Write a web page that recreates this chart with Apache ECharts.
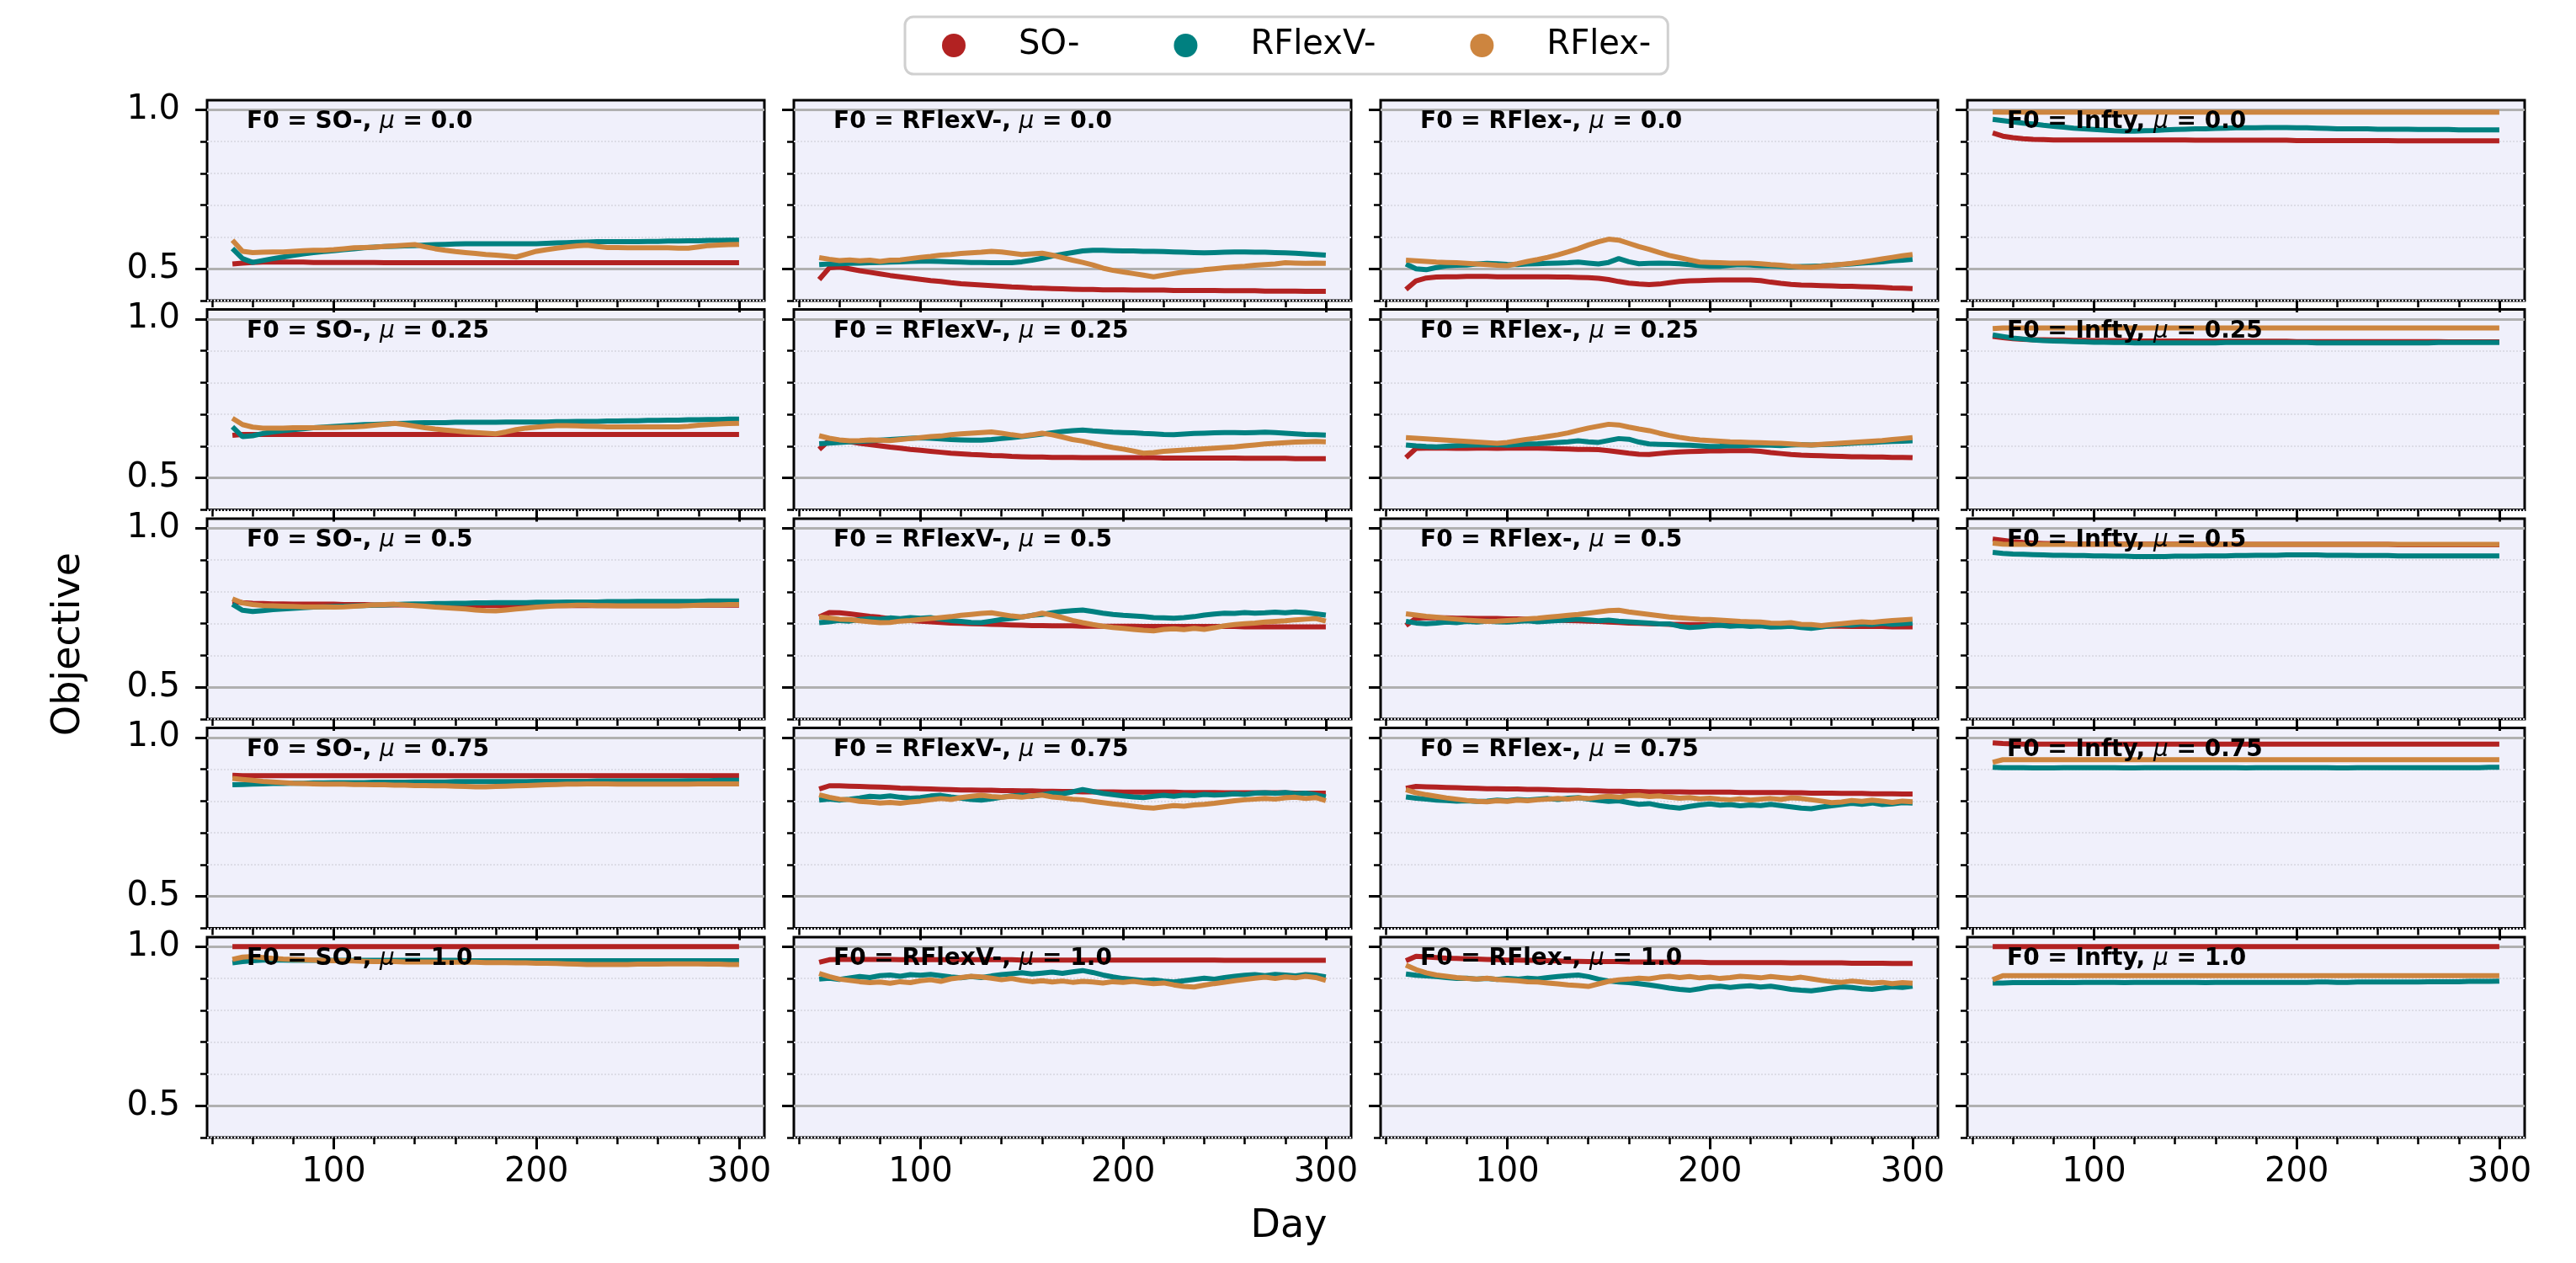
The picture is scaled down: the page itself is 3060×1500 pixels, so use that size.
<!DOCTYPE html>
<html>
<head>
<meta charset="utf-8">
<script src="https://cdn.jsdelivr.net/npm/echarts/dist/echarts.min.js"></script>
<style>
  html, body { margin: 0; padding: 0; background: #fff; }
  #grid { width: 3060px; height: 1500px; }
</style>
</head>
<body>
<div id="grid"></div>
<script>
// day axis shared by every panel
const days = [50,55,60,65,70,75,80,85,90,95,100,105,110,115,120,125,130,135,140,145,150,155,160,165,170,175,180,185,190,195,200,205,210,215,220,225,230,235,240,245,250,255,260,265,270,275,280,285,290,295,300];

const seriesNames = ['SO-', 'RFlexV-', 'RFlex-'];
const seriesColors = ['#b22222', '#008080', '#cd853f'];
const f0Labels = ['SO-', 'RFlexV-', 'RFlex-', 'Infty'];
const muLabels = ['0.0', '0.25', '0.5', '0.75', '1.0'];
const xMajorTicks = [100, 200, 300];
const xMinorTicks = [40, 60, 80, 120, 140, 160, 180, 220, 240, 260, 280];
const yMajorTicks = [0.5, 1.0];
const yMinorTicks = [0.4, 0.6, 0.7, 0.8, 0.9];

// ---- mu = 0.0 ----
const so_SO_0 = [0.515,0.518,0.520,0.521,0.521,0.521,0.521,0.521,0.520,0.520, 0.520,0.520,0.520,0.520,0.520,0.519,0.519,0.519,0.519,0.519, 0.519,0.519,0.519,0.519,0.519,0.519,0.519,0.519,0.519,0.519, 0.519,0.519,0.519,0.519,0.519,0.519,0.519,0.519,0.519,0.519, 0.519,0.519,0.519,0.519,0.519,0.519,0.519,0.519,0.519,0.519, 0.519];
const rfv_SO_0 = [0.564,0.532,0.520,0.526,0.532,0.537,0.542,0.547,0.551,0.554, 0.557,0.560,0.563,0.566,0.568,0.570,0.571,0.572,0.573,0.575, 0.576,0.577,0.578,0.579,0.579,0.579,0.579,0.579,0.579,0.579, 0.579,0.580,0.581,0.582,0.583,0.584,0.585,0.585,0.585,0.585, 0.585,0.586,0.586,0.587,0.587,0.588,0.588,0.589,0.589,0.590, 0.590];
const rf_SO_0 = [0.590,0.555,0.551,0.552,0.553,0.553,0.555,0.557,0.558,0.558, 0.560,0.563,0.566,0.567,0.568,0.570,0.572,0.574,0.576,0.569, 0.563,0.558,0.554,0.551,0.548,0.545,0.543,0.540,0.537,0.546, 0.555,0.560,0.565,0.569,0.572,0.574,0.570,0.567,0.567,0.566, 0.566,0.566,0.566,0.566,0.565,0.565,0.569,0.573,0.575,0.576, 0.577];
const so_RFV_0 = [0.466,0.503,0.506,0.500,0.494,0.489,0.484,0.479,0.475,0.471, 0.467,0.463,0.460,0.456,0.453,0.451,0.449,0.447,0.445,0.443, 0.442,0.440,0.439,0.438,0.437,0.436,0.435,0.435,0.434,0.434, 0.434,0.433,0.433,0.433,0.433,0.432,0.432,0.432,0.432,0.432, 0.431,0.431,0.431,0.431,0.430,0.430,0.430,0.430,0.429,0.429, 0.429];
const rfv_RFV_0 = [0.513,0.515,0.516,0.517,0.518,0.519,0.520,0.521,0.522,0.523, 0.524,0.524,0.523,0.522,0.521,0.520,0.520,0.519,0.519,0.519, 0.522,0.527,0.533,0.540,0.546,0.551,0.556,0.558,0.558,0.557, 0.556,0.556,0.555,0.555,0.554,0.553,0.552,0.551,0.550,0.551, 0.552,0.553,0.553,0.552,0.552,0.551,0.550,0.549,0.547,0.545, 0.543];
const rf_RFV_0 = [0.535,0.530,0.526,0.528,0.525,0.527,0.523,0.527,0.528,0.532, 0.536,0.539,0.543,0.545,0.548,0.550,0.552,0.555,0.553,0.549, 0.545,0.547,0.549,0.543,0.535,0.527,0.520,0.512,0.502,0.495, 0.490,0.485,0.480,0.475,0.480,0.485,0.490,0.493,0.497,0.500, 0.503,0.506,0.508,0.511,0.513,0.515,0.519,0.518,0.517,0.518, 0.517];
const so_RF_0 = [0.435,0.462,0.471,0.474,0.475,0.475,0.476,0.476,0.476,0.475, 0.475,0.475,0.475,0.475,0.475,0.474,0.474,0.473,0.472,0.470, 0.466,0.460,0.455,0.452,0.450,0.452,0.456,0.460,0.462,0.463, 0.464,0.465,0.465,0.465,0.465,0.463,0.458,0.454,0.451,0.449, 0.448,0.447,0.446,0.445,0.445,0.444,0.443,0.442,0.440,0.439, 0.438];
const rfv_RF_0 = [0.515,0.500,0.497,0.504,0.509,0.511,0.512,0.515,0.517,0.516, 0.514,0.513,0.515,0.516,0.517,0.518,0.519,0.521,0.518,0.515, 0.520,0.532,0.522,0.516,0.517,0.518,0.517,0.516,0.513,0.510, 0.508,0.508,0.511,0.513,0.512,0.510,0.509,0.508,0.506,0.507, 0.508,0.509,0.511,0.513,0.515,0.518,0.520,0.522,0.525,0.527, 0.530];
const rf_RF_0 = [0.527,0.525,0.523,0.521,0.520,0.519,0.517,0.515,0.513,0.511, 0.510,0.516,0.523,0.529,0.536,0.544,0.553,0.563,0.575,0.585, 0.593,0.590,0.580,0.570,0.561,0.551,0.542,0.535,0.528,0.521, 0.520,0.519,0.518,0.518,0.518,0.516,0.513,0.511,0.508,0.506, 0.505,0.508,0.511,0.514,0.517,0.521,0.526,0.531,0.536,0.541, 0.545];
const so_INF_0 = [0.927,0.917,0.912,0.909,0.907,0.906,0.905,0.905,0.905,0.905, 0.905,0.905,0.905,0.905,0.905,0.905,0.905,0.905,0.905,0.905, 0.904,0.904,0.904,0.904,0.904,0.904,0.904,0.904,0.904,0.904, 0.903,0.903,0.903,0.903,0.903,0.903,0.903,0.903,0.903,0.903, 0.902,0.902,0.902,0.902,0.902,0.902,0.902,0.902,0.902,0.902, 0.902];
const rfv_INF_0 = [0.970,0.966,0.962,0.958,0.955,0.951,0.948,0.945,0.942,0.940, 0.938,0.936,0.934,0.933,0.933,0.934,0.935,0.937,0.938,0.939, 0.940,0.940,0.941,0.942,0.943,0.943,0.943,0.944,0.944,0.944, 0.943,0.943,0.942,0.941,0.940,0.940,0.940,0.940,0.939,0.939, 0.939,0.939,0.938,0.938,0.938,0.938,0.937,0.937,0.937,0.937, 0.937];
const rf_INF_0 = [0.993,0.992,0.992,0.992,0.992,0.992,0.992,0.992,0.992,0.992, 0.992,0.992,0.992,0.992,0.992,0.992,0.992,0.992,0.992,0.992, 0.992,0.992,0.992,0.992,0.992,0.992,0.992,0.992,0.992,0.992, 0.992,0.992,0.992,0.992,0.992,0.992,0.992,0.992,0.992,0.992, 0.992,0.992,0.992,0.992,0.992,0.992,0.992,0.992,0.992,0.992, 0.992];

// ---- mu = 0.25 ----
const so_SO_1 = [0.634,0.637,0.637,0.637,0.637,0.637,0.637,0.637,0.637,0.637, 0.637,0.637,0.637,0.637,0.637,0.637,0.637,0.637,0.637,0.637, 0.637,0.637,0.637,0.637,0.637,0.637,0.637,0.637,0.637,0.637, 0.637,0.637,0.637,0.637,0.637,0.637,0.637,0.637,0.637,0.637, 0.637,0.637,0.637,0.637,0.637,0.637,0.637,0.637,0.637,0.637, 0.637];
const rfv_SO_1 = [0.661,0.630,0.633,0.640,0.645,0.649,0.652,0.655,0.658,0.660, 0.662,0.664,0.666,0.668,0.669,0.670,0.671,0.672,0.673,0.674, 0.674,0.674,0.675,0.675,0.675,0.675,0.675,0.676,0.676,0.676, 0.676,0.676,0.677,0.677,0.678,0.678,0.678,0.679,0.679,0.680, 0.680,0.681,0.681,0.682,0.682,0.683,0.683,0.684,0.684,0.685, 0.685];
const rf_SO_1 = [0.688,0.668,0.660,0.657,0.657,0.657,0.658,0.658,0.658,0.659, 0.659,0.660,0.661,0.663,0.666,0.669,0.672,0.668,0.663,0.658, 0.654,0.651,0.648,0.645,0.643,0.641,0.639,0.645,0.652,0.657, 0.660,0.663,0.665,0.665,0.664,0.663,0.662,0.661,0.661,0.661, 0.661,0.661,0.661,0.661,0.661,0.663,0.666,0.668,0.670,0.671, 0.672];
const so_RFV_1 = [0.590,0.619,0.618,0.614,0.609,0.605,0.601,0.597,0.594,0.590, 0.587,0.584,0.581,0.578,0.576,0.574,0.573,0.571,0.570,0.568, 0.567,0.566,0.566,0.565,0.565,0.565,0.564,0.564,0.564,0.564, 0.564,0.564,0.564,0.564,0.563,0.563,0.563,0.563,0.563,0.563, 0.563,0.563,0.562,0.562,0.562,0.562,0.562,0.561,0.561,0.561, 0.561];
const rfv_RFV_1 = [0.608,0.610,0.612,0.614,0.615,0.617,0.619,0.621,0.623,0.625, 0.626,0.625,0.623,0.621,0.620,0.619,0.619,0.621,0.624,0.627, 0.630,0.634,0.638,0.642,0.646,0.649,0.651,0.648,0.646,0.644, 0.643,0.642,0.640,0.639,0.637,0.636,0.638,0.640,0.641,0.642, 0.643,0.643,0.642,0.643,0.644,0.643,0.641,0.639,0.637,0.636, 0.635];
const rf_RFV_1 = [0.633,0.625,0.620,0.617,0.618,0.620,0.619,0.618,0.621,0.624, 0.627,0.630,0.632,0.636,0.639,0.641,0.643,0.645,0.641,0.636, 0.632,0.636,0.641,0.636,0.629,0.621,0.616,0.609,0.602,0.596, 0.591,0.585,0.578,0.580,0.584,0.586,0.588,0.590,0.592,0.594, 0.596,0.598,0.601,0.604,0.607,0.609,0.611,0.613,0.614,0.615, 0.614];
const so_RF_1 = [0.564,0.593,0.594,0.594,0.594,0.593,0.593,0.594,0.594,0.593, 0.594,0.594,0.594,0.594,0.593,0.592,0.591,0.590,0.590,0.589, 0.586,0.582,0.578,0.575,0.574,0.577,0.580,0.582,0.583,0.584, 0.585,0.585,0.586,0.586,0.586,0.584,0.580,0.577,0.574,0.572, 0.571,0.570,0.569,0.568,0.567,0.567,0.566,0.566,0.565,0.565, 0.564];
const rfv_RF_1 = [0.604,0.601,0.599,0.598,0.600,0.602,0.603,0.604,0.604,0.605, 0.603,0.605,0.607,0.608,0.610,0.612,0.614,0.617,0.614,0.612, 0.618,0.624,0.622,0.613,0.607,0.606,0.605,0.604,0.603,0.601, 0.599,0.600,0.602,0.601,0.603,0.604,0.603,0.602,0.604,0.605, 0.604,0.605,0.606,0.607,0.609,0.611,0.612,0.614,0.615,0.616, 0.617];
const rf_RF_1 = [0.627,0.625,0.623,0.621,0.619,0.617,0.615,0.613,0.611,0.609, 0.612,0.617,0.622,0.626,0.631,0.636,0.642,0.650,0.657,0.663, 0.669,0.667,0.660,0.654,0.649,0.641,0.634,0.628,0.623,0.620, 0.618,0.616,0.614,0.613,0.612,0.611,0.610,0.609,0.607,0.605, 0.604,0.606,0.608,0.610,0.612,0.614,0.616,0.618,0.621,0.624, 0.627];
const so_INF_1 = [0.945,0.941,0.938,0.936,0.935,0.935,0.934,0.934,0.933,0.933, 0.932,0.932,0.932,0.932,0.931,0.931,0.931,0.931,0.931,0.931, 0.930,0.930,0.930,0.930,0.930,0.930,0.930,0.930,0.930,0.930, 0.929,0.929,0.929,0.929,0.929,0.929,0.929,0.929,0.929,0.929, 0.929,0.929,0.929,0.929,0.929,0.928,0.928,0.928,0.928,0.928, 0.928];
const rfv_INF_1 = [0.950,0.945,0.940,0.937,0.934,0.932,0.931,0.930,0.929,0.928, 0.927,0.927,0.926,0.926,0.925,0.925,0.925,0.925,0.925,0.925, 0.925,0.925,0.925,0.926,0.926,0.926,0.926,0.926,0.926,0.926, 0.926,0.926,0.925,0.925,0.925,0.925,0.925,0.925,0.925,0.925, 0.925,0.925,0.925,0.925,0.926,0.926,0.926,0.926,0.926,0.926, 0.926];
const rf_INF_1 = [0.970,0.972,0.972,0.972,0.972,0.972,0.972,0.972,0.972,0.972, 0.972,0.972,0.972,0.972,0.972,0.972,0.972,0.972,0.972,0.972, 0.972,0.972,0.972,0.972,0.972,0.972,0.972,0.972,0.972,0.972, 0.972,0.972,0.972,0.972,0.972,0.972,0.972,0.972,0.972,0.972, 0.972,0.972,0.972,0.972,0.972,0.972,0.972,0.972,0.972,0.972, 0.972];

// ---- mu = 0.5 ----
const so_SO_2 = [0.770,0.766,0.764,0.763,0.762,0.762,0.761,0.761,0.761,0.761, 0.761,0.760,0.760,0.760,0.759,0.759,0.759,0.759,0.758,0.758, 0.758,0.758,0.758,0.757,0.757,0.757,0.757,0.757,0.757,0.757, 0.757,0.757,0.757,0.757,0.757,0.757,0.757,0.757,0.757,0.757, 0.757,0.757,0.757,0.757,0.757,0.758,0.758,0.758,0.758,0.758, 0.758];
const rfv_SO_2 = [0.761,0.742,0.738,0.741,0.744,0.746,0.748,0.750,0.752,0.753, 0.754,0.755,0.756,0.757,0.758,0.759,0.760,0.761,0.762,0.762, 0.763,0.763,0.764,0.764,0.765,0.765,0.766,0.766,0.766,0.766, 0.767,0.767,0.767,0.768,0.768,0.768,0.768,0.769,0.769,0.769, 0.770,0.770,0.770,0.770,0.770,0.770,0.770,0.771,0.771,0.771, 0.771];
const rf_SO_2 = [0.778,0.765,0.760,0.757,0.756,0.755,0.754,0.753,0.753,0.753, 0.752,0.753,0.755,0.757,0.759,0.760,0.761,0.759,0.757,0.755, 0.752,0.750,0.748,0.746,0.743,0.741,0.740,0.743,0.746,0.749, 0.752,0.754,0.756,0.757,0.758,0.758,0.757,0.757,0.756,0.756, 0.756,0.756,0.756,0.756,0.756,0.757,0.758,0.759,0.759,0.760, 0.760];
const so_RFV_2 = [0.721,0.735,0.734,0.731,0.727,0.723,0.720,0.716,0.713,0.710, 0.708,0.706,0.704,0.702,0.701,0.700,0.699,0.698,0.697,0.696, 0.695,0.694,0.694,0.693,0.693,0.693,0.692,0.692,0.692,0.692, 0.692,0.692,0.691,0.691,0.691,0.691,0.691,0.691,0.691,0.691, 0.691,0.691,0.690,0.690,0.690,0.690,0.690,0.690,0.690,0.690, 0.690];
const rfv_RFV_2 = [0.703,0.706,0.710,0.708,0.713,0.716,0.714,0.718,0.716,0.719, 0.717,0.719,0.714,0.710,0.707,0.704,0.703,0.708,0.713,0.716, 0.721,0.726,0.729,0.734,0.738,0.741,0.743,0.738,0.733,0.729, 0.726,0.724,0.722,0.719,0.718,0.717,0.719,0.722,0.727,0.730, 0.733,0.732,0.735,0.733,0.734,0.736,0.734,0.737,0.735,0.731, 0.727];
const rf_RFV_2 = [0.721,0.718,0.714,0.713,0.709,0.706,0.703,0.704,0.708,0.710, 0.713,0.716,0.719,0.722,0.726,0.729,0.732,0.734,0.729,0.724, 0.721,0.726,0.733,0.727,0.719,0.710,0.703,0.697,0.692,0.688, 0.685,0.682,0.679,0.677,0.682,0.684,0.681,0.685,0.682,0.687, 0.693,0.697,0.700,0.702,0.705,0.707,0.709,0.712,0.714,0.716, 0.708];
const so_RF_2 = [0.694,0.717,0.719,0.718,0.718,0.717,0.717,0.716,0.716,0.716, 0.715,0.715,0.714,0.713,0.712,0.711,0.710,0.709,0.708,0.707, 0.705,0.704,0.702,0.701,0.700,0.699,0.698,0.698,0.697,0.697, 0.696,0.696,0.695,0.695,0.694,0.694,0.694,0.693,0.693,0.693, 0.692,0.692,0.692,0.692,0.691,0.691,0.691,0.691,0.690,0.690, 0.690];
const rfv_RF_2 = [0.707,0.702,0.700,0.702,0.705,0.703,0.707,0.705,0.708,0.706, 0.705,0.707,0.709,0.706,0.708,0.710,0.712,0.714,0.712,0.709, 0.711,0.708,0.706,0.704,0.702,0.699,0.699,0.692,0.688,0.690, 0.693,0.695,0.692,0.694,0.691,0.693,0.689,0.690,0.692,0.688, 0.685,0.689,0.694,0.697,0.695,0.699,0.697,0.701,0.698,0.700, 0.702];
const rf_RF_2 = [0.731,0.727,0.723,0.720,0.717,0.714,0.711,0.709,0.707,0.708, 0.710,0.712,0.715,0.717,0.720,0.723,0.726,0.729,0.733,0.737, 0.741,0.742,0.737,0.733,0.729,0.725,0.721,0.718,0.716,0.714, 0.713,0.711,0.709,0.707,0.706,0.705,0.702,0.701,0.703,0.698, 0.697,0.694,0.697,0.700,0.703,0.706,0.704,0.707,0.710,0.712, 0.714];
const so_INF_2 = [0.966,0.962,0.958,0.955,0.953,0.952,0.951,0.951,0.950,0.950, 0.950,0.950,0.950,0.950,0.950,0.950,0.950,0.950,0.950,0.950, 0.949,0.949,0.949,0.949,0.949,0.949,0.949,0.949,0.949,0.949, 0.949,0.949,0.949,0.949,0.949,0.949,0.949,0.949,0.949,0.949, 0.948,0.948,0.948,0.948,0.948,0.948,0.948,0.948,0.948,0.948, 0.948];
const rfv_INF_2 = [0.924,0.921,0.919,0.918,0.917,0.916,0.915,0.915,0.914,0.914, 0.913,0.913,0.912,0.912,0.911,0.911,0.911,0.911,0.912,0.912, 0.912,0.913,0.913,0.913,0.914,0.914,0.915,0.915,0.915,0.916, 0.916,0.916,0.916,0.915,0.915,0.915,0.914,0.914,0.914,0.914, 0.913,0.913,0.913,0.913,0.913,0.913,0.913,0.913,0.913,0.913, 0.913];
const rf_INF_2 = [0.953,0.950,0.949,0.949,0.949,0.949,0.949,0.949,0.949,0.949, 0.949,0.949,0.949,0.949,0.949,0.949,0.949,0.949,0.949,0.949, 0.949,0.949,0.949,0.949,0.949,0.949,0.949,0.949,0.949,0.949, 0.949,0.949,0.949,0.949,0.949,0.949,0.949,0.949,0.949,0.949, 0.949,0.949,0.949,0.949,0.949,0.949,0.949,0.949,0.949,0.949, 0.949];

// ---- mu = 0.75 ----
const so_SO_3 = [0.881,0.880,0.880,0.880,0.880,0.880,0.880,0.880,0.880,0.880, 0.880,0.880,0.880,0.880,0.880,0.880,0.880,0.880,0.880,0.880, 0.880,0.880,0.880,0.880,0.880,0.880,0.880,0.880,0.880,0.880, 0.880,0.880,0.880,0.880,0.880,0.880,0.880,0.880,0.880,0.880, 0.880,0.880,0.880,0.880,0.880,0.880,0.880,0.880,0.880,0.880, 0.880];
const rfv_SO_3 = [0.851,0.852,0.853,0.854,0.855,0.855,0.856,0.856,0.857,0.857, 0.858,0.858,0.858,0.858,0.859,0.859,0.859,0.859,0.860,0.860, 0.860,0.860,0.861,0.861,0.861,0.861,0.861,0.861,0.861,0.861, 0.862,0.862,0.862,0.862,0.862,0.862,0.863,0.863,0.863,0.863, 0.863,0.863,0.863,0.863,0.863,0.864,0.864,0.864,0.865,0.865, 0.865];
const rf_SO_3 = [0.871,0.868,0.865,0.862,0.860,0.858,0.856,0.855,0.854,0.853, 0.853,0.853,0.852,0.852,0.851,0.851,0.850,0.850,0.849,0.849, 0.848,0.848,0.847,0.846,0.845,0.845,0.846,0.847,0.848,0.849, 0.850,0.851,0.852,0.853,0.853,0.854,0.854,0.854,0.853,0.853, 0.853,0.853,0.853,0.853,0.853,0.853,0.854,0.854,0.854,0.854, 0.854];
const so_RFV_3 = [0.838,0.848,0.848,0.847,0.846,0.845,0.844,0.843,0.841,0.840, 0.839,0.838,0.837,0.836,0.835,0.835,0.834,0.834,0.833,0.833, 0.832,0.832,0.831,0.831,0.830,0.830,0.829,0.829,0.829,0.829, 0.828,0.828,0.828,0.828,0.828,0.828,0.827,0.827,0.827,0.827, 0.826,0.826,0.826,0.826,0.826,0.826,0.826,0.825,0.825,0.825, 0.825];
const rfv_RFV_3 = [0.803,0.806,0.803,0.806,0.810,0.815,0.813,0.816,0.812,0.809, 0.811,0.816,0.818,0.813,0.809,0.805,0.803,0.807,0.812,0.816, 0.818,0.815,0.820,0.825,0.823,0.829,0.836,0.830,0.824,0.820, 0.816,0.813,0.811,0.815,0.818,0.815,0.819,0.817,0.821,0.819, 0.820,0.823,0.821,0.825,0.826,0.824,0.827,0.823,0.825,0.820, 0.813];
const rf_RFV_3 = [0.820,0.812,0.806,0.804,0.799,0.797,0.794,0.796,0.793,0.797, 0.800,0.804,0.808,0.805,0.811,0.815,0.818,0.814,0.812,0.815, 0.812,0.816,0.819,0.813,0.810,0.806,0.804,0.799,0.795,0.791, 0.788,0.784,0.780,0.778,0.782,0.786,0.784,0.788,0.790,0.793, 0.797,0.801,0.804,0.806,0.808,0.806,0.810,0.812,0.808,0.811, 0.801];
const so_RF_3 = [0.840,0.846,0.845,0.844,0.843,0.842,0.841,0.840,0.839,0.839, 0.838,0.838,0.837,0.837,0.836,0.835,0.834,0.834,0.833,0.832, 0.831,0.831,0.830,0.830,0.829,0.829,0.829,0.829,0.828,0.828, 0.828,0.828,0.828,0.827,0.827,0.827,0.827,0.827,0.826,0.826, 0.825,0.825,0.825,0.824,0.824,0.824,0.823,0.823,0.823,0.822, 0.822];
const rfv_RF_3 = [0.813,0.809,0.806,0.803,0.802,0.800,0.801,0.799,0.800,0.803, 0.801,0.805,0.803,0.806,0.808,0.805,0.809,0.811,0.806,0.802, 0.799,0.801,0.795,0.790,0.792,0.786,0.781,0.778,0.783,0.788, 0.791,0.787,0.789,0.785,0.788,0.786,0.790,0.786,0.782,0.778, 0.776,0.781,0.785,0.789,0.793,0.790,0.794,0.789,0.791,0.795, 0.794];
const rf_RF_3 = [0.836,0.826,0.820,0.815,0.810,0.806,0.802,0.799,0.798,0.801, 0.799,0.803,0.801,0.804,0.806,0.808,0.806,0.810,0.808,0.812, 0.815,0.812,0.817,0.818,0.814,0.816,0.812,0.809,0.811,0.807, 0.809,0.806,0.804,0.807,0.803,0.806,0.808,0.805,0.810,0.808, 0.804,0.800,0.795,0.797,0.802,0.799,0.803,0.800,0.796,0.800, 0.798];
const so_INF_3 = [0.983,0.981,0.980,0.979,0.979,0.979,0.979,0.979,0.979,0.979, 0.979,0.979,0.979,0.979,0.979,0.979,0.979,0.979,0.979,0.979, 0.979,0.979,0.979,0.979,0.979,0.979,0.979,0.979,0.979,0.979, 0.979,0.979,0.979,0.979,0.979,0.979,0.979,0.979,0.979,0.979, 0.979,0.979,0.979,0.979,0.979,0.979,0.979,0.979,0.979,0.979, 0.979];
const rfv_INF_3 = [0.906,0.905,0.905,0.905,0.904,0.904,0.904,0.905,0.905,0.905, 0.905,0.905,0.905,0.904,0.904,0.905,0.905,0.905,0.905,0.905, 0.905,0.905,0.905,0.905,0.905,0.904,0.905,0.905,0.905,0.905, 0.905,0.905,0.905,0.905,0.904,0.904,0.905,0.905,0.905,0.905, 0.905,0.905,0.905,0.905,0.905,0.905,0.905,0.905,0.905,0.906, 0.906];
const rf_INF_3 = [0.922,0.930,0.930,0.930,0.930,0.930,0.930,0.930,0.930,0.930, 0.930,0.930,0.930,0.930,0.930,0.930,0.930,0.930,0.930,0.930, 0.930,0.930,0.930,0.930,0.930,0.930,0.930,0.930,0.930,0.930, 0.930,0.930,0.930,0.930,0.930,0.930,0.930,0.930,0.930,0.930, 0.930,0.930,0.930,0.930,0.930,0.930,0.930,0.930,0.930,0.930, 0.930];

// ---- mu = 1.0 ----
const so_SO_4 = [1.000,1.000,1.000,1.000,1.000,1.000,1.000,1.000,1.000,1.000, 1.000,1.000,1.000,1.000,1.000,1.000,1.000,1.000,1.000,1.000, 1.000,1.000,1.000,1.000,1.000,1.000,1.000,1.000,1.000,1.000, 1.000,1.000,1.000,1.000,1.000,1.000,1.000,1.000,1.000,1.000, 1.000,1.000,1.000,1.000,1.000,1.000,1.000,1.000,1.000,1.000, 1.000];
const rfv_SO_4 = [0.949,0.953,0.956,0.958,0.958,0.958,0.957,0.957,0.957,0.957, 0.957,0.957,0.957,0.957,0.957,0.957,0.957,0.957,0.957,0.957, 0.957,0.957,0.957,0.956,0.956,0.956,0.956,0.956,0.956,0.956, 0.956,0.956,0.956,0.956,0.956,0.956,0.956,0.956,0.956,0.956, 0.956,0.956,0.956,0.956,0.956,0.956,0.956,0.956,0.956,0.956, 0.956];
const rf_SO_4 = [0.960,0.967,0.969,0.966,0.963,0.961,0.960,0.959,0.958,0.957, 0.956,0.956,0.955,0.954,0.953,0.953,0.953,0.952,0.952,0.952, 0.952,0.951,0.951,0.951,0.951,0.950,0.950,0.950,0.949,0.949, 0.948,0.948,0.947,0.946,0.945,0.944,0.944,0.944,0.944,0.944, 0.945,0.945,0.945,0.946,0.946,0.946,0.946,0.945,0.945,0.944, 0.944];
const so_RFV_4 = [0.951,0.959,0.960,0.960,0.960,0.960,0.960,0.960,0.959,0.959, 0.959,0.959,0.959,0.959,0.959,0.959,0.959,0.959,0.959,0.959, 0.958,0.958,0.958,0.958,0.958,0.958,0.958,0.958,0.958,0.958, 0.958,0.958,0.958,0.958,0.958,0.958,0.958,0.958,0.958,0.958, 0.957,0.957,0.957,0.957,0.957,0.957,0.957,0.957,0.957,0.957, 0.957];
const rfv_RFV_4 = [0.898,0.901,0.897,0.902,0.906,0.903,0.909,0.911,0.907,0.912, 0.910,0.913,0.909,0.905,0.902,0.906,0.903,0.908,0.912,0.915, 0.918,0.914,0.917,0.920,0.916,0.921,0.925,0.919,0.911,0.905, 0.900,0.897,0.894,0.896,0.892,0.889,0.893,0.897,0.901,0.898, 0.903,0.907,0.910,0.912,0.909,0.913,0.911,0.908,0.912,0.910, 0.905];
const rf_RFV_4 = [0.916,0.906,0.898,0.894,0.890,0.887,0.889,0.885,0.890,0.887, 0.893,0.896,0.891,0.899,0.903,0.907,0.905,0.901,0.896,0.900, 0.894,0.890,0.893,0.889,0.892,0.888,0.891,0.889,0.886,0.890, 0.888,0.891,0.887,0.884,0.886,0.880,0.875,0.873,0.879,0.884, 0.888,0.893,0.897,0.901,0.904,0.900,0.905,0.902,0.907,0.903, 0.894];
const so_RF_4 = [0.956,0.970,0.968,0.966,0.964,0.963,0.962,0.961,0.960,0.959, 0.958,0.958,0.957,0.957,0.956,0.955,0.954,0.954,0.953,0.953, 0.953,0.953,0.952,0.952,0.952,0.952,0.951,0.951,0.951,0.951, 0.950,0.950,0.950,0.950,0.950,0.950,0.950,0.950,0.949,0.949, 0.949,0.949,0.949,0.949,0.948,0.948,0.948,0.948,0.947,0.947, 0.947];
const rfv_RF_4 = [0.914,0.910,0.908,0.906,0.903,0.900,0.901,0.898,0.900,0.897, 0.900,0.898,0.901,0.899,0.903,0.906,0.909,0.911,0.906,0.898, 0.892,0.889,0.887,0.884,0.880,0.875,0.870,0.866,0.863,0.868, 0.874,0.876,0.872,0.875,0.877,0.873,0.876,0.871,0.866,0.863, 0.861,0.865,0.870,0.874,0.872,0.868,0.866,0.870,0.874,0.872, 0.876];
const rf_RF_4 = [0.942,0.928,0.918,0.911,0.907,0.903,0.900,0.898,0.901,0.897, 0.895,0.893,0.890,0.889,0.886,0.883,0.880,0.878,0.875,0.883, 0.891,0.896,0.898,0.901,0.899,0.904,0.907,0.903,0.906,0.902, 0.904,0.900,0.903,0.907,0.905,0.902,0.906,0.903,0.900,0.904, 0.899,0.894,0.890,0.888,0.892,0.889,0.886,0.888,0.884,0.887, 0.885];
const so_INF_4 = [1.000,1.000,1.000,1.000,1.000,1.000,1.000,1.000,1.000,1.000, 1.000,1.000,1.000,1.000,1.000,1.000,1.000,1.000,1.000,1.000, 1.000,1.000,1.000,1.000,1.000,1.000,1.000,1.000,1.000,1.000, 1.000,1.000,1.000,1.000,1.000,1.000,1.000,1.000,1.000,1.000, 1.000,1.000,1.000,1.000,1.000,1.000,1.000,1.000,1.000,1.000, 1.000];
const rfv_INF_4 = [0.886,0.886,0.887,0.887,0.887,0.887,0.888,0.887,0.887,0.888, 0.888,0.888,0.888,0.887,0.888,0.888,0.888,0.888,0.888,0.888, 0.888,0.887,0.888,0.888,0.888,0.888,0.888,0.888,0.888,0.888, 0.888,0.888,0.889,0.889,0.888,0.888,0.889,0.889,0.889,0.889, 0.889,0.889,0.889,0.890,0.890,0.890,0.890,0.891,0.891,0.891, 0.892];
const rf_INF_4 = [0.896,0.909,0.909,0.909,0.909,0.909,0.909,0.909,0.909,0.909, 0.909,0.909,0.909,0.909,0.909,0.909,0.909,0.909,0.909,0.909, 0.909,0.909,0.909,0.909,0.909,0.909,0.909,0.909,0.909,0.909, 0.909,0.909,0.909,0.909,0.909,0.909,0.909,0.909,0.909,0.909, 0.909,0.909,0.909,0.909,0.909,0.909,0.909,0.909,0.909,0.909, 0.909];

// rows = mu, columns = F0, each cell [SO-, RFlexV-, RFlex-]
const panels = [
  [[so_SO_0, rfv_SO_0, rf_SO_0], [so_RFV_0, rfv_RFV_0, rf_RFV_0], [so_RF_0, rfv_RF_0, rf_RF_0], [so_INF_0, rfv_INF_0, rf_INF_0]],
  [[so_SO_1, rfv_SO_1, rf_SO_1], [so_RFV_1, rfv_RFV_1, rf_RFV_1], [so_RF_1, rfv_RF_1, rf_RF_1], [so_INF_1, rfv_INF_1, rf_INF_1]],
  [[so_SO_2, rfv_SO_2, rf_SO_2], [so_RFV_2, rfv_RFV_2, rf_RFV_2], [so_RF_2, rfv_RF_2, rf_RF_2], [so_INF_2, rfv_INF_2, rf_INF_2]],
  [[so_SO_3, rfv_SO_3, rf_SO_3], [so_RFV_3, rfv_RFV_3, rf_RFV_3], [so_RF_3, rfv_RF_3, rf_RF_3], [so_INF_3, rfv_INF_3, rf_INF_3]],
  [[so_SO_4, rfv_SO_4, rf_SO_4], [so_RFV_4, rfv_RFV_4, rf_RFV_4], [so_RF_4, rfv_RF_4, rf_RF_4], [so_INF_4, rfv_INF_4, rf_INF_4]]
];

const FONT = 'DejaVu Sans';
const chart = echarts.init(document.getElementById('grid'));

const left0 = 246, colStep = 697, panelW = 662;
const top0 = 119, rowStep = 248.5, panelH = 238;

const grids = [], xAxes = [], yAxes = [], series = [], titles = [];

panels.forEach((row, r) => {
  row.forEach((cell, c) => {
    const k = r * 4 + c;
    const left = left0 + c * colStep;
    const top = top0 + r * rowStep;
    grids.push({
      left: left, top: top, width: panelW, height: panelH,
      show: true, backgroundColor: '#f0f0fb', borderColor: '#000', borderWidth: 3,
      containLabel: false, outerBoundsMode: 'none'
    });
    // major + minor x axes (ticks only, labels on bottom row)
    xAxes.push({
      gridIndex: k, type: 'value', min: 37.5, max: 312.5, position: 'bottom',
      axisLine: { show: false, onZero: false },
      axisTick: { show: true, customValues: xMajorTicks, length: 14, lineStyle: { color: '#000', width: 3 } },
      axisLabel: { show: r === 4, customValues: xMajorTicks, fontSize: 40, fontFamily: FONT, color: '#000', margin: 22 },
      splitLine: { show: false }
    });
    xAxes.push({
      gridIndex: k, type: 'value', min: 37.5, max: 312.5, position: 'bottom',
      axisLine: { show: false, onZero: false },
      axisTick: { show: true, customValues: xMinorTicks, length: 8, lineStyle: { color: '#000', width: 2.5 } },
      axisLabel: { show: false },
      splitLine: { show: false }
    });
    yAxes.push({
      gridIndex: k, type: 'value', min: 0.4, max: 1.03, position: 'left',
      axisLine: { show: false, onZero: false },
      axisTick: { show: true, customValues: yMajorTicks, length: 14, lineStyle: { color: '#000', width: 3 } },
      axisLabel: { show: c === 0, customValues: yMajorTicks, fontSize: 40, fontFamily: FONT, color: '#000', margin: 32,
                   formatter: v => Number(v).toFixed(1) },
      splitLine: { show: true, lineStyle: { color: '#b0b0b0', width: 3 } }
    });
    yAxes.push({
      gridIndex: k, type: 'value', min: 0.4, max: 1.03, position: 'left',
      axisLine: { show: false, onZero: false },
      axisTick: { show: true, customValues: yMinorTicks, length: 8, lineStyle: { color: '#000', width: 2.5 } },
      axisLabel: { show: false },
      splitLine: { show: true, lineStyle: { color: '#dcdce6', width: 2, type: 'dotted' } }
    });
    cell.forEach((vals, s) => {
      series.push({
        name: seriesNames[s], type: 'line', xAxisIndex: 2 * k, yAxisIndex: 2 * k,
        data: days.map((d, i) => [d, vals[i]]),
        showSymbol: false, symbol: 'none', smooth: false,
        lineStyle: { color: seriesColors[s], width: 6 },
        itemStyle: { color: seriesColors[s] },
        z: 3
      });
    });
    titles.push({
      text: 'F0 = ' + f0Labels[c] + ', {m|μ} = ' + muLabels[r],
      left: left + 47, top: top + 12, padding: 0, z: 10,
      textStyle: {
        fontSize: 28, fontWeight: 'bold', fontFamily: FONT, color: '#000',
        rich: { m: { fontSize: 28, fontStyle: 'italic', fontWeight: 'normal', fontFamily: FONT, color: '#000' } }
      }
    });
  });
});

const option = {
  animation: false,
  backgroundColor: '#ffffff',
  title: titles,
  grid: grids,
  xAxis: xAxes,
  yAxis: yAxes,
  series: series,
  legend: {
    data: seriesNames, left: 1075, top: 20, orient: 'horizontal',
    icon: 'circle', itemWidth: 28, itemHeight: 28, itemGap: 112,
    padding: [14, 20, 14, 44],
    backgroundColor: '#fff', borderColor: '#d0d0d0', borderWidth: 3, borderRadius: 10,
    textStyle: { fontSize: 40, fontFamily: FONT, color: '#000', padding: [0, 0, 0, 58] }
  },
  graphic: [
    { type: 'text', x: 82, y: 765, rotation: Math.PI / 2,
      style: { text: 'Objective', fontSize: 46, fontFamily: FONT, fill: '#000', align: 'center', verticalAlign: 'middle' } },
    { type: 'text', x: 1531, y: 1457,
      style: { text: 'Day', fontSize: 46, fontFamily: FONT, fill: '#000', align: 'center', verticalAlign: 'middle' } }
  ]
};

chart.setOption(option);
</script>
</body>
</html>
